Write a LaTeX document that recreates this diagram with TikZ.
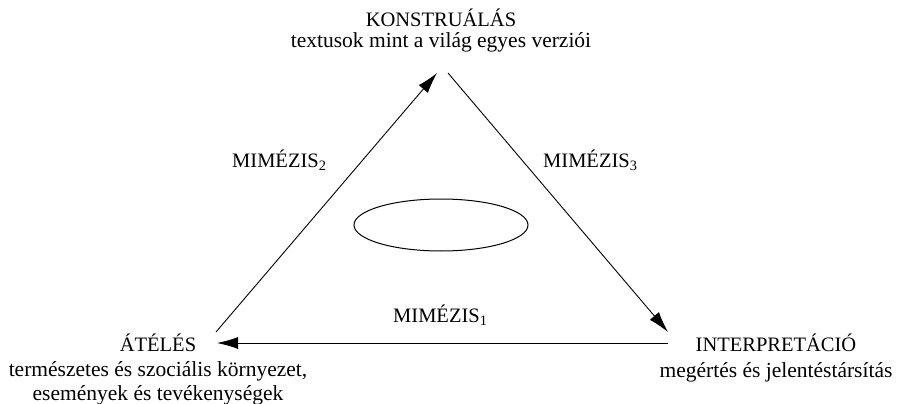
\documentclass[tikz,border=0pt]{standalone}
\usepackage{fontspec}
\setmainfont{Liberation Serif}
\usetikzlibrary{
  arrows.meta,
  positioning,
  shapes.geometric
}
\tikzset{>={Latex[length=21pt,width=12pt]}}
\tikzset{font=\fontsize{20.5}{24}\selectfont}
\tikzset{
  title/.style={inner sep=0pt, anchor=base},
  subtitle/.style={inner sep=0pt, align=center, anchor=north,
    font=\fontsize{21.5}{23.5}\selectfont},
  mimlabel/.style={inner sep=0pt, anchor=base west},
  edge/.style={->, line width=0.9pt}
}

\begin{document}
\begin{tikzpicture}[x=1pt, y=-1pt]
  \useasboundingbox (0, 0) rectangle (900, 404);
  % corners of the triangle
  \coordinate (atel-out) at (216, 332);
  \coordinate (atel-in) at (217, 343);
  \coordinate (konstr-in) at (437, 73);
  \coordinate (konstr-out) at (448, 73);
  \coordinate (interp-in) at (668, 332);
  \coordinate (interp-out) at (668, 343);
  % the three poles
  \node[title] (konstr) at (441, 27) {KONSTRUÁLÁS};
  \node[subtitle, below=5pt of konstr] (konstr-sub)
    {textusok mint a világ egyes verziói};
  \node[title] (atel) at (158, 351) {ÁTÉLÉS};
  \node[subtitle, below=10pt of atel] (atel-sub)
    {természetes és szociális környezet,\\ események és tevékenységek};
  \node[title] (interp) at (776, 351) {INTERPRETÁCIÓ};
  \node[subtitle, below=11pt of interp] (interp-sub)
    {megértés és jelentéstársítás};
  % mimesis labels
  \node[mimlabel] (mim1) at (393, 322) {MIMÉZIS\textsubscript{1}};
  \node[mimlabel] (mim2) at (232, 167) {MIMÉZIS\textsubscript{2}};
  \node[mimlabel] (mim3) at (543, 167) {MIMÉZIS\textsubscript{3}};
  \node[draw, ellipse, line width=1pt, minimum width=174pt,
    minimum height=52pt] (centre) at (441, 225) {};
  \begin{scope}
    \draw[edge] (atel-out) -- (konstr-in);
    \draw[edge] (konstr-out) -- (interp-in);
    \draw[edge] (interp-out) -- (atel-in);
  \end{scope}
\end{tikzpicture}
\end{document}
